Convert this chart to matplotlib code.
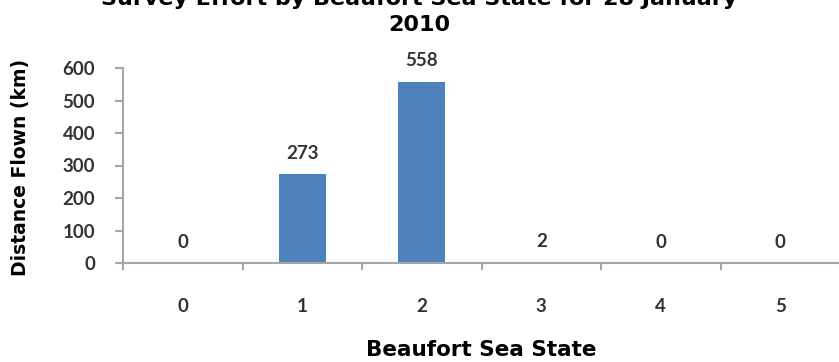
import matplotlib
matplotlib.use("Agg")
import matplotlib.pyplot as plt
import numpy as np

# survey effort per sea state
sea_states = ["0", "1", "2", "3", "4", "5"]
distance_km = [0, 273, 558, 2, 0, 0]
y_ticks = [0, 100, 200, 300, 400, 500, 600]

bar_color = "#4f81bd"
axis_gray = "#a6a6a6"
text_gray = "#333333"
label_font = "Lato"
bold_font = "DejaVu Sans"

fig = plt.figure(figsize=(8.39, 3.62), dpi=100)
ax = fig.add_axes([123 / 839, 1 - 263 / 362, 717 / 839, 195 / 362])

xpos = np.arange(len(sea_states))
ax.bar(xpos, distance_km, width=0.39, color=bar_color, zorder=2)

# value labels over each bar
for x, v in zip(xpos, distance_km):
    ax.annotate(str(v), (x, v), xytext=(0, 9), textcoords="offset points",
                ha="center", va="bottom", fontsize=13.5, fontweight="bold",
                family=label_font, color=text_gray)

ax.set_xlim(-0.5, len(sea_states) - 0.5)
ax.set_ylim(0, 600)

# category labels centred, tick marks on the category boundaries
ax.set_xticks(xpos)
ax.set_xticklabels(sea_states, fontsize=13.5, fontweight="bold",
                   family=label_font, color=text_gray)
ax.tick_params(axis="x", which="major", length=0, pad=25)
ax.set_xticks(np.arange(-0.5, len(sea_states)), minor=True)
ax.tick_params(axis="x", which="minor", length=5, width=1.5, color=axis_gray,
               direction="out")

ax.set_yticks(y_ticks)
ax.set_yticklabels([str(t) for t in y_ticks], fontsize=13.5, fontweight="bold",
                   family=label_font, color=text_gray)
ax.tick_params(axis="y", length=6, width=1.5, color=axis_gray, pad=14)

for side in ["top", "right"]:
    ax.spines[side].set_visible(False)
for side in ["left", "bottom"]:
    ax.spines[side].set_color(axis_gray)
    ax.spines[side].set_linewidth(1.5)

ax.set_xlabel("Beaufort Sea State", fontsize=15.5, fontweight="bold",
              family=bold_font)
ax.xaxis.set_label_coords(0.5, -0.395)
ax.set_ylabel("Distance Flown (km)", fontsize=13.5, fontweight="bold",
              family=bold_font)
ax.yaxis.set_label_coords(-0.13, 0.49)

# title runs over two lines, the first one sits against the top edge
fig.text(0.5, 1 - 5 / 362, "Survey Effort by Beaufort Sea State for 28 January",
         ha="center", va="baseline", fontsize=16, fontweight="bold",
         family=bold_font)
fig.text(0.5, 1 - 31 / 362, "2010", ha="center", va="baseline", fontsize=16,
         fontweight="bold", family=bold_font)

fig.savefig("out.png", dpi=100)
